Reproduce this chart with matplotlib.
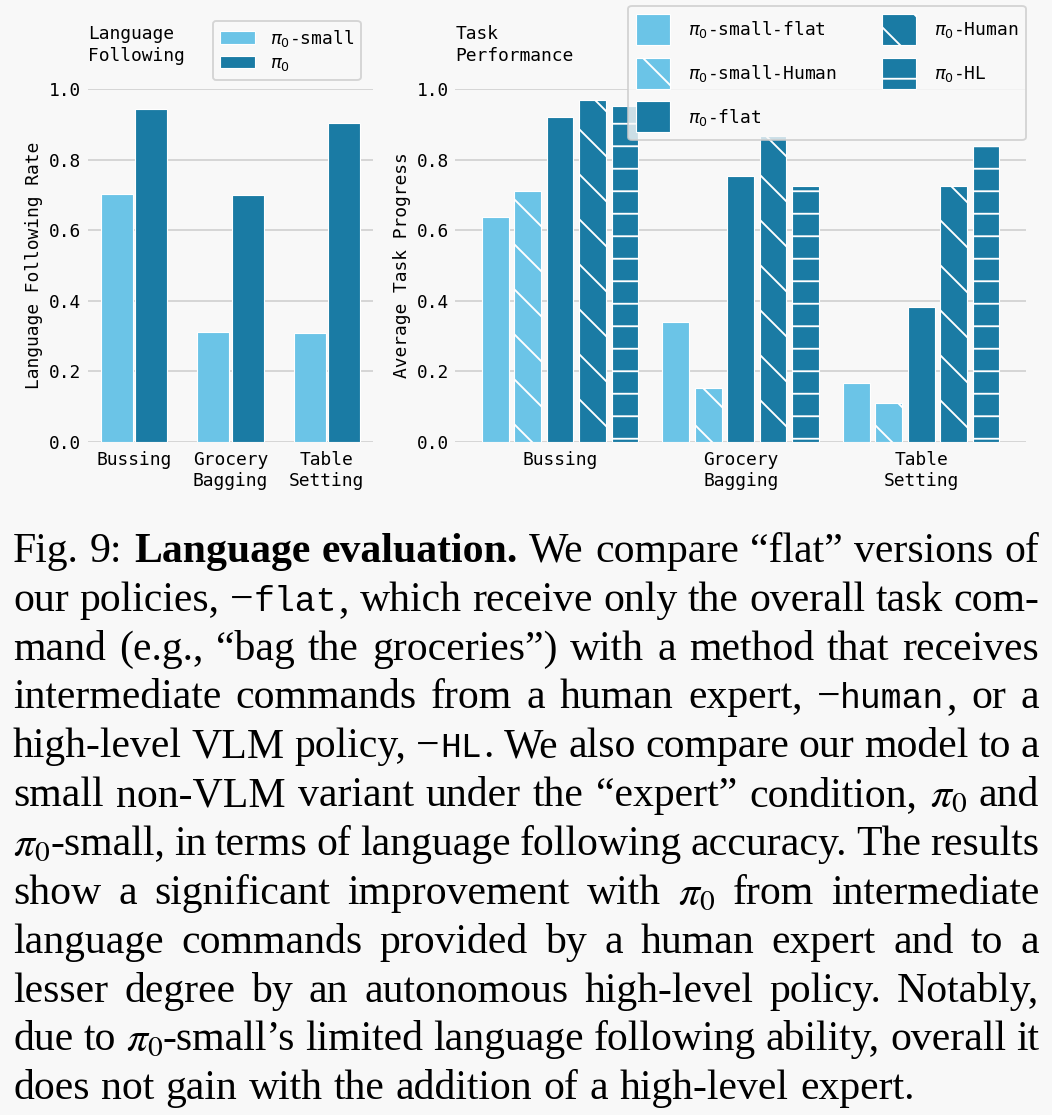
import re
import numpy as np
import matplotlib
matplotlib.use('Agg')
import matplotlib.pyplot as plt

# ---- data ----
tasks = ['Bussing', 'Grocery\nBagging', 'Table\nSetting']

lang_small = [0.702, 0.312, 0.307]
lang_pi0 = [0.944, 0.700, 0.904]

prog_labels = [r'$\pi_0$-small-flat', r'$\pi_0$-small-Human', r'$\pi_0$-flat',
               r'$\pi_0$-Human', r'$\pi_0$-HL']
prog_small_flat = [0.637, 0.339, 0.166]
prog_small_human = [0.712, 0.153, 0.109]
prog_flat = [0.920, 0.753, 0.382]
prog_human = [0.970, 0.867, 0.724]
prog_hl = [0.953, 0.724, 0.840]

caption_lines = [
    "Fig. 9: **Language** **evaluation.** We compare “flat” versions of",
    "our policies, −`flat`, which receive only the overall task com-",
    "mand (e.g., “bag the groceries”) with a method that receives",
    "intermediate commands from a human expert, −`human`, or a",
    "high-level VLM policy, −`HL`. We also compare our model to a",
    "small non-VLM variant under the “expert” condition, $\\pi_0$ and",
    "$\\pi_0$-small, in terms of language following accuracy. The results",
    "show a significant improvement with $\\pi_0$ from intermediate",
    "language commands provided by a human expert and to a",
    "lesser degree by an autonomous high-level policy. Notably,",
    "due to $\\pi_0$-small’s limited language following ability, overall it",
    "does not gain with the addition of a high-level expert.",
]

LIGHT = '#6bc4e7'
DARK = '#1a7ba4'
BG = '#f8f8f8'

W, H, DPI = 1052, 1115, 135
def fx(px): return px / W
def fy(py): return 1 - py / H

plt.rcParams['font.family'] = 'DejaVu Sans Mono'
plt.rcParams['hatch.color'] = 'white'
plt.rcParams['hatch.linewidth'] = 1.0
fs = 9.5

fig = plt.figure(figsize=((W + 0.2) / DPI, (H + 0.2) / DPI), dpi=DPI, facecolor=BG)

def style_axes(ax, pad):
    ax.set_facecolor(BG)
    for s in ax.spines.values():
        s.set_visible(False)
    ax.set_axisbelow(True)
    ax.yaxis.grid(True, color='#cccccc', lw=0.8)
    ax.set_ylim(0, 1.0)
    ax.set_yticks([0, 0.2, 0.4, 0.6, 0.8, 1.0])
    ax.tick_params(axis='y', length=0, pad=pad, labelsize=fs)
    ax.tick_params(axis='x', length=0, pad=5.0, labelsize=fs)

# ---- left panel: language following ----
ax1 = fig.add_axes([fx(88), fy(441.7), (373 - 88) / W, 352.4 / H])
style_axes(ax1, 3.6)
x = np.arange(len(tasks))
ax1.bar(x - 0.178, lang_small, 0.333, color=LIGHT, edgecolor='white', lw=0.6,
        label=r'$\pi_0$-small')
ax1.bar(x + 0.178, lang_pi0, 0.333, color=DARK, edgecolor='white', lw=0.6,
        label=r'$\pi_0$')
ax1.set_xlim(-0.48, 2.48)
ax1.set_xticks(x)
ax1.set_xticklabels(tasks)
ax1.set_ylabel('Language Following Rate', fontsize=fs)
ax1.yaxis.set_label_coords((43 - 88) / 285, 0.5)
ax1.legend(loc='upper left', bbox_to_anchor=(fx(212.7), fy(20.7)),
           bbox_transform=fig.transFigure, borderaxespad=0, fontsize=fs,
           labelspacing=0.3, facecolor=BG, edgecolor='#cccccc', framealpha=0.8)
fig.text(fx(88), fy(25), 'Language\nFollowing', fontsize=fs, va='top', ha='left',
         linespacing=1.25)

# ---- right panel: task performance ----
ax2 = fig.add_axes([fx(455), fy(441.7), (1026 - 455) / W, 352.4 / H])
style_axes(ax2, 3.0)
series = [prog_small_flat, prog_small_human, prog_flat, prog_human, prog_hl]
colors = [LIGHT, LIGHT, DARK, DARK, DARK]
hatches = ['', '\\', '', '\\', '-']
pitch = 0.1795
for i, (vals, c, h, lab) in enumerate(zip(series, colors, hatches, prog_labels)):
    ax2.bar(x + (i - 2) * pitch, vals, 0.148, color=c, edgecolor='white', lw=0.6,
            hatch=h, label=lab)
ax2.set_xlim(-0.582, 2.582)
ax2.set_xticks(x)
ax2.set_xticklabels(tasks)
ax2.set_ylabel('Average Task Progress', fontsize=fs)
ax2.yaxis.set_label_coords((411 - 455) / 571, 0.5)
ax2.legend(loc='upper left', bbox_to_anchor=(fx(628), fy(6)),
           bbox_transform=fig.transFigure, borderaxespad=0, fontsize=fs, ncol=2,
           handlelength=1.9, handleheight=2.3, labelspacing=0.72,
           handletextpad=1.0, columnspacing=2.55, borderpad=0.45,
           facecolor=BG, edgecolor='#cccccc', framealpha=0.8)
fig.text(fx(455.5), fy(25), 'Task\nPerformance', fontsize=fs, va='top', ha='left',
         linespacing=1.25)

# ---- caption, justified ----
cap_fs = 22.3
tt_fs = 18.5
left, right = 13, 1039
base0, step = 561.7, 48.85
styles = {'rm': dict(family='Liberation Serif', fontsize=cap_fs),
          'bf': dict(family='Liberation Serif', weight='bold', fontsize=cap_fs),
          'tt': dict(family='Liberation Mono', fontsize=tt_fs)}

fig.canvas.draw()
rend = fig.canvas.get_renderer()

def split_runs(word):
    if word.startswith('**'):
        return [(word.strip('*'), 'bf')]
    runs = []
    for part in re.split(r'(`[^`]*`|\$[^$]*\$)', word):
        if not part:
            continue
        if part.startswith('`'):
            runs.append((part.strip('`'), 'tt'))
        else:
            runs.append((part, 'rm'))
    return runs

for i, line in enumerate(caption_lines):
    yb = fy(base0 + i * step)
    words = []
    for w in line.split(' '):
        texts, widths = [], []
        for s, k in split_runs(w):
            t = fig.text(0, yb, s, va='baseline', ha='left',
                         math_fontfamily='stix', color='black', **styles[k])
            texts.append(t)
            widths.append(t.get_window_extent(rend).width + (2 if k == 'tt' else 0))
        words.append((texts, widths))
    total = sum(sum(ws) for _, ws in words)
    if i < len(caption_lines) - 1:
        gap = (right - left - total) / (len(words) - 1)
    else:
        gap = 0.27 * cap_fs * DPI / 72
    xpos = left
    for texts, ws in words:
        for t, wd in zip(texts, ws):
            t.set_x(fx(xpos))
            xpos += wd
        xpos += gap

fig.savefig('out.png', dpi=DPI, facecolor=BG)
